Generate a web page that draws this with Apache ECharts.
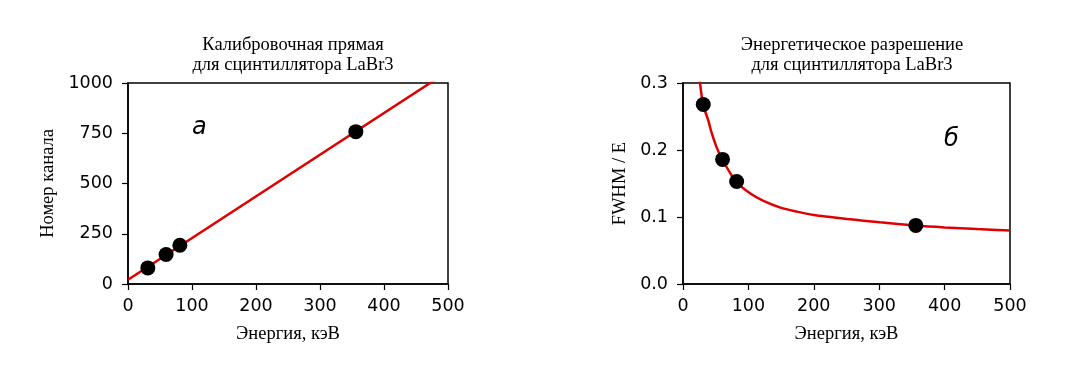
<!DOCTYPE html>
<html><head><meta charset="utf-8">
<script src="https://cdn.jsdelivr.net/npm/echarts@6/dist/echarts.min.js"></script>
<style>html,body{margin:0;padding:0;background:#fff}#c{width:1065px;height:380px}</style>
</head><body><div id="c"></div>
<script>
// Left panel: calibration line
const calibPoints = [[31, 80], [59.5, 147], [81, 193], [356, 758]];
const calibLine = [[0, 21], [500, 1058]];
const calibYTicks = [0, 250, 500, 750, 1000];
// Right panel: energy resolution
const resPoints = [[31, 0.268], [60.5, 0.186], [82, 0.153], [356, 0.0875]];
const resCurve = [[23, 0.33], [26, 0.3], [31, 0.267], [39, 0.243], [43, 0.228], [51, 0.205], [60, 0.186],
  [81, 0.153], [103, 0.135], [123, 0.124], [149, 0.114], [174, 0.108], [200, 0.103], [225, 0.100],
  [251, 0.097], [276, 0.0945], [301, 0.092], [356, 0.0873], [400, 0.0845], [450, 0.082], [500, 0.080]];
const xTicks = [0, 100, 200, 300, 400, 500];
const titles = ['Калибровочная прямая\nдля сцинтиллятора LaBr3', 'Энергетическое разрешение\nдля сцинтиллятора LaBr3'];
const xName = 'Энергия, кэВ';
const yNames = ['Номер канала', 'FWHM / E'];
const panelLetters = ['а', 'б'];

const serif = 'Liberation Serif';
const sans = 'DejaVu Sans';
const axisCommon = {
  axisLine: {show: true, onZero: false, lineStyle: {color: '#000', width: 1.5}},
  axisTick: {show: true, inside: false, length: 6, lineStyle: {color: '#000', width: 1.2}},
  splitLine: {show: false},
  nameTextStyle: {color: '#000', fontFamily: serif, fontSize: 18.5},
  nameLocation: 'middle'
};
const xLabel = {color: '#000', fontFamily: sans, fontSize: 17.5, margin: 13};
const yLabel = {color: '#000', fontFamily: sans, fontSize: 17.5, margin: 15};
const titleStyle = {fontFamily: serif, fontSize: 18.5, fontWeight: 'normal', color: '#000', lineHeight: 20};
const chart = echarts.init(document.getElementById('c'), null, {renderer: 'canvas'});
chart.setOption({
  animation: false,
  backgroundColor: '#fff',
  title: [
    {text: titles[0], left: 288, top: 30, textAlign: 'center', textStyle: titleStyle},
    {text: titles[1], left: 847, top: 30, textAlign: 'center', textStyle: titleStyle}
  ],
  grid: [
    {left: 128, top: 83, width: 320, height: 201, show: true, borderColor: '#000', borderWidth: 1.5, containLabel: false},
    {left: 683, top: 83, width: 327, height: 201, show: true, borderColor: '#000', borderWidth: 1.5, containLabel: false}
  ],
  xAxis: [
    Object.assign({}, axisCommon, {gridIndex: 0, type: 'value', min: xTicks[0], max: xTicks[xTicks.length-1], interval: 100,
      name: xName, nameGap: 41, axisLabel: xLabel}),
    Object.assign({}, axisCommon, {gridIndex: 1, type: 'value', min: xTicks[0], max: xTicks[xTicks.length-1], interval: 100,
      name: xName, nameGap: 41, axisLabel: xLabel})
  ],
  yAxis: [
    Object.assign({}, axisCommon, {gridIndex: 0, type: 'value', min: calibYTicks[0], max: calibYTicks[calibYTicks.length-1], interval: 250,
      name: yNames[0], nameGap: 70, axisLabel: Object.assign({}, yLabel, {formatter: v => String(v)})}),
    Object.assign({}, axisCommon, {gridIndex: 1, type: 'value', min: 0, max: 0.3, interval: 0.1,
      name: yNames[1], nameGap: 53, axisLabel: Object.assign({}, yLabel, {formatter: v => v.toFixed(1)})})
  ],
  series: [
    {type: 'line', xAxisIndex: 0, yAxisIndex: 0, data: calibLine, showSymbol: false, clip: true,
     lineStyle: {color: '#e00000', width: 2.5}, z: 2},
    {type: 'scatter', xAxisIndex: 0, yAxisIndex: 0, data: calibPoints, symbolSize: 15,
     itemStyle: {color: '#000', opacity: 1}, z: 3},
    {type: 'line', xAxisIndex: 1, yAxisIndex: 1, data: resCurve, showSymbol: false, smooth: 0.3, clip: true,
     lineStyle: {color: '#e00000', width: 2.5}, z: 2},
    {type: 'scatter', xAxisIndex: 1, yAxisIndex: 1, data: resPoints, symbolSize: 15,
     itemStyle: {color: '#000', opacity: 1}, z: 3}
  ],
  graphic: [
    {type: 'text', left: 192, top: 116, style: {text: panelLetters[0], font: 'italic 24px "DejaVu Sans"', fill: '#000'}},
    {type: 'text', left: 944, top: 128, style: {text: panelLetters[1], font: 'italic 24px "DejaVu Sans"', fill: '#000'}}
  ]
});
</script></body></html>
